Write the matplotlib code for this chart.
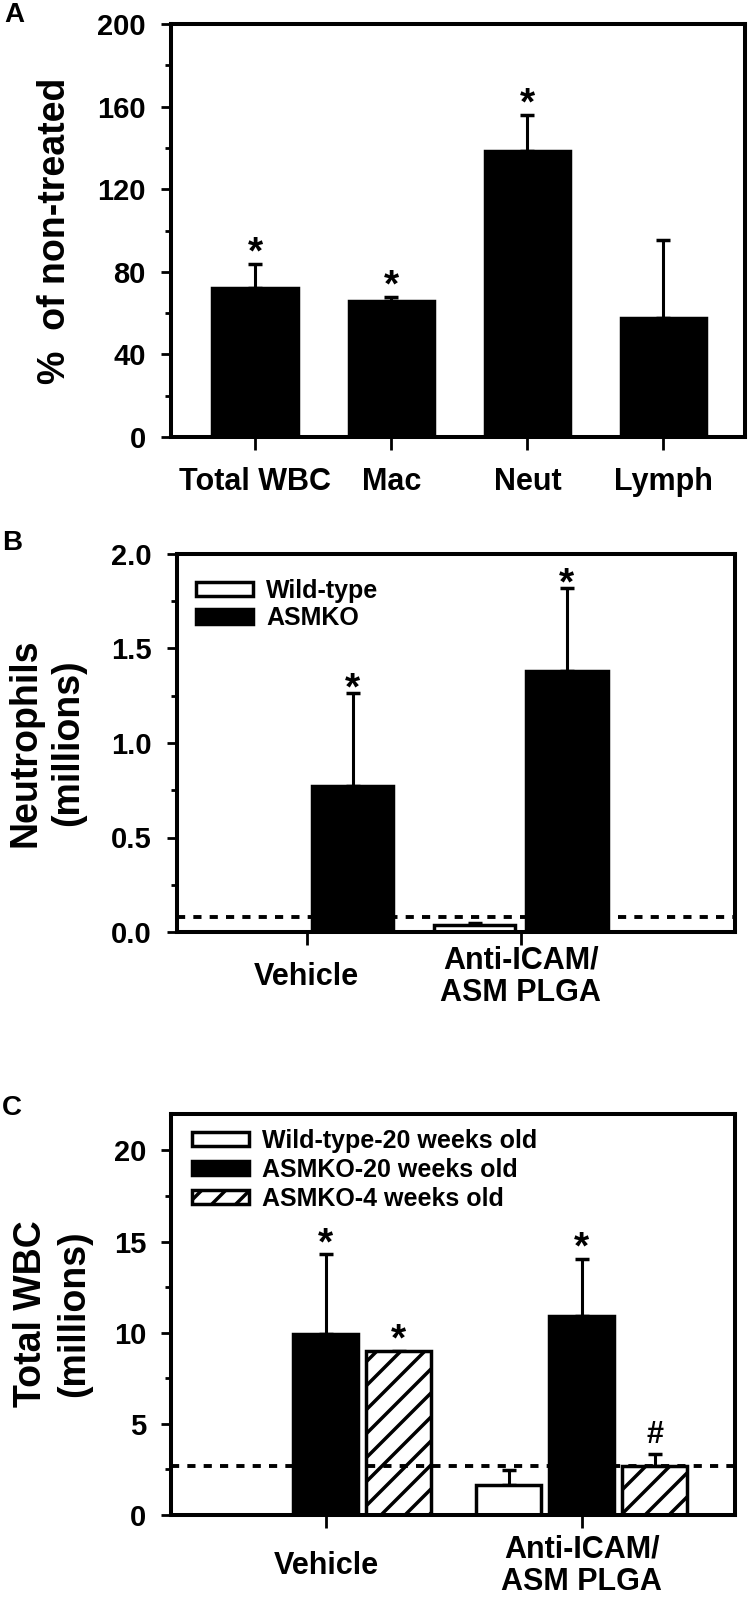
import matplotlib
matplotlib.use("Agg")
import matplotlib.pyplot as plt
from matplotlib.patches import Patch
from matplotlib.ticker import MultipleLocator
import numpy as np

# A: % of non-treated
a_cats = ['Total WBC', 'Mac', 'Neut', 'Lymph']
a_vals = [72, 66, 138.5, 57.5]
a_err_top = [84, 68, 156, 95.5]
a_marks = ['*', '*', '*', '']

# B: neutrophils (millions)
b_groups = ['Vehicle', 'Anti-ICAM/\nASM PLGA']
b_wt = [np.nan, 0.037]
b_wt_top = [np.nan, 0.05]
b_ko = [0.775, 1.38]
b_ko_top = [1.265, 1.82]
b_ko_marks = ['*', '*']
b_baseline = 0.081

# C: total WBC (millions)
c_groups = ['Vehicle', 'Anti-ICAM/\nASM PLGA']
c_wt = [np.nan, 1.66]
c_wt_top = [np.nan, 2.47]
c_ko20 = [9.95, 10.9]
c_ko20_top = [14.3, 14.05]
c_ko4 = [9.0, 2.7]
c_ko4_top = [np.nan, 3.35]
c_ko20_marks = ['*', '*']
c_ko4_marks = ['*', '#']
c_baseline = 2.67

# drawn at 72 dpi so the hatch is as dense as the original;
# sizes below are written as if at 100 dpi and scaled by pt()
DPI = 72


def pt(v):
    return v * 100 / DPI


plt.rcParams['font.family'] = ['Liberation Sans', 'DejaVu Sans']
plt.rcParams['font.weight'] = 'bold'
plt.rcParams['hatch.linewidth'] = pt(2.5)

W, H = 751, 1613
fig = plt.figure(figsize=(W / DPI, H / DPI), dpi=DPI)


def px_axes(l, t, r, b):
    return fig.add_axes([l / W, 1 - b / H, (r - l) / W, (b - t) / H])


def style(ax, minor):
    for s in ax.spines.values():
        s.set_linewidth(pt(2.9))
    ax.yaxis.set_minor_locator(MultipleLocator(minor))
    ax.tick_params(axis='y', which='major', direction='out', length=pt(7), width=pt(2),
                   pad=pt(11), labelsize=pt(21), right=False)
    ax.tick_params(axis='y', which='minor', direction='out', length=pt(4), width=pt(2),
                   right=False)
    ax.tick_params(axis='x', which='both', direction='out', length=pt(9.5), width=pt(2),
                   labelsize=pt(22), top=False)


def bars(ax, x, vals, tops, width, **kw):
    vals = np.array(vals, dtype=float)
    tops = np.array(tops, dtype=float)
    ax.errorbar(x, vals, yerr=[np.zeros_like(vals), tops - vals], fmt='none',
                ecolor='k', elinewidth=pt(2.2), capsize=pt(4.7), capthick=pt(2.5),
                zorder=1.5)
    ax.bar(x, vals, width, edgecolor='k', linewidth=pt(2.5), zorder=2, **kw)


def marks(ax, x, vals, tops, labels, dy):
    for xi, v, t, m in zip(x, vals, tops, labels):
        if not m:
            continue
        y = t if np.isfinite(t) else v
        size = 28 if m == '*' else 22
        off = dy if m == '*' else dy + 8
        ax.annotate(m, (xi, y), xytext=(0, pt(off)), textcoords='offset points',
                    ha='center', va='baseline', fontsize=pt(size), fontweight='bold')


def legend(ax, handles, labels, anchor, spacing):
    ax.legend(handles, labels, loc='upper left', bbox_to_anchor=anchor,
              frameon=False, fontsize=pt(18), handlelength=2.3, handleheight=0.5,
              handletextpad=0.5, labelspacing=spacing, borderaxespad=0, borderpad=0)


# ---- panel A
axA = px_axes(171, 24, 745, 437)
style(axA, 20)
xa = np.arange(len(a_cats))
bars(axA, xa, a_vals, a_err_top, 0.63, color='k')
marks(axA, xa, a_vals, a_err_top, a_marks, 0)
axA.set_xlim(-0.62, 3.6)
axA.set_ylim(0, 200)
axA.set_yticks([0, 40, 80, 120, 160, 200])
axA.set_xticks(xa)
axA.set_xticklabels(a_cats, va='center')
axA.tick_params(axis='x', pad=pt(23))
fig.text(55 / W, 1 - 231 / H, '%  of non-treated', rotation=90, ha='center',
         va='center', fontsize=pt(27))
fig.text(14 / W, 1 - 15 / H, 'A', ha='center', va='center', fontsize=pt(20))

# ---- panel B
axB = px_axes(177, 554, 735, 932)
style(axB, 0.25)
xb = np.arange(len(b_groups))
bars(axB, xb - 0.215, b_wt, b_wt_top, 0.38, color='white')
bars(axB, xb + 0.215, b_ko, b_ko_top, 0.38, color='k')
marks(axB, xb + 0.215, b_ko, b_ko_top, b_ko_marks, -5)
axB.axhline(b_baseline, color='k', lw=pt(2.8), linestyle=(0, (2.1, 2.1)), zorder=5)
axB.set_xlim(-0.605, 2.0)
axB.set_ylim(0, 2.0)
axB.set_yticks([0, 0.5, 1.0, 1.5, 2.0])
axB.set_yticklabels(['0.0', '0.5', '1.0', '1.5', '2.0'])
axB.set_xticks(xb)
axB.set_xticklabels(b_groups, va='center', linespacing=1.1)
axB.tick_params(axis='x', pad=pt(23))
legend(axB, [Patch(facecolor='white', edgecolor='k', linewidth=pt(2.5)),
             Patch(facecolor='k', edgecolor='k', linewidth=pt(2.5))],
       ['Wild-type', 'ASMKO'], (0.034, 0.935), 0.15)
fig.text(47 / W, 1 - 743 / H, 'Neutrophils\n(millions)', rotation=90, ha='center',
         va='center', fontsize=pt(27), linespacing=1.25, multialignment='center')
fig.text(12 / W, 1 - 543 / H, 'B', ha='center', va='center', fontsize=pt(20))

# ---- panel C
axC = px_axes(171, 1114, 735, 1515)
style(axC, 2.5)
xc = np.arange(len(c_groups))
bars(axC, xc - 0.285, c_wt, c_wt_top, 0.254, color='white')
bars(axC, xc, c_ko20, c_ko20_top, 0.254, color='k')
bars(axC, xc + 0.285, c_ko4, c_ko4_top, 0.254, color='white', hatch='/')
marks(axC, xc, c_ko20, c_ko20_top, c_ko20_marks, 0)
marks(axC, xc + 0.285, c_ko4, c_ko4_top, c_ko4_marks, 0)
axC.axhline(c_baseline, color='k', lw=pt(2.8), linestyle=(0, (2.1, 2.1)), zorder=5)
axC.set_xlim(-0.605, 1.598)
axC.set_ylim(0, 22)
axC.set_yticks([0, 5, 10, 15, 20])
axC.set_xticks(xc)
axC.set_xticklabels(c_groups, va='center', linespacing=1.1)
axC.tick_params(axis='x', pad=pt(27))
legend(axC, [Patch(facecolor='white', edgecolor='k', linewidth=pt(2.5)),
             Patch(facecolor='k', edgecolor='k', linewidth=pt(2.5)),
             Patch(facecolor='white', edgecolor='k', linewidth=pt(2.5), hatch='/')],
       ['Wild-type-20 weeks old', 'ASMKO-20 weeks old', 'ASMKO-4 weeks old'],
       (0.037, 0.963), 0.2)
fig.text(53 / W, 1 - 1314 / H, 'Total WBC\n(millions)', rotation=90, ha='center',
         va='center', fontsize=pt(27), linespacing=1.25, multialignment='center')
fig.text(12 / W, 1 - 1108 / H, 'C', ha='center', va='center', fontsize=pt(20))

fig.savefig('out.png', dpi=DPI)
